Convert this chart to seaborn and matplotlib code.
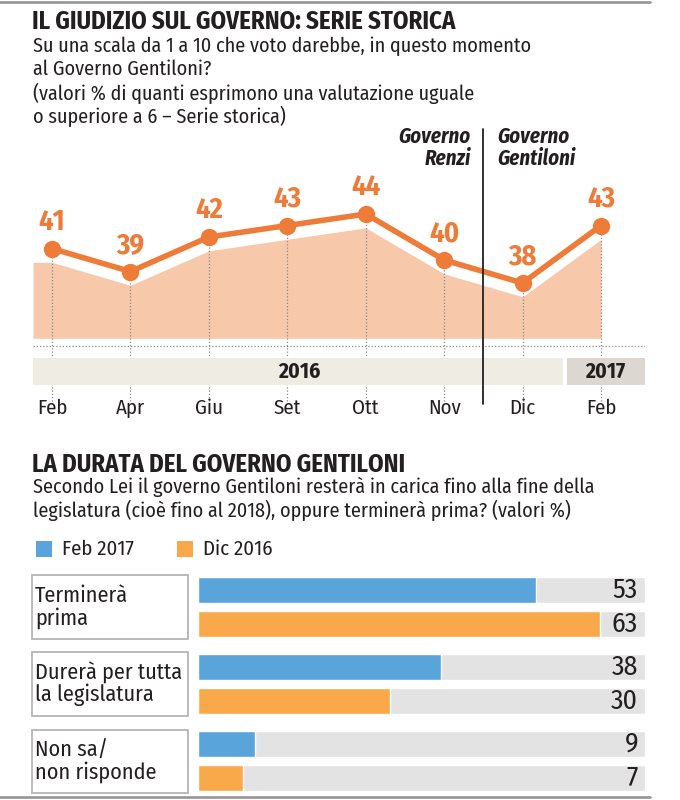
import matplotlib
matplotlib.use("Agg")
import matplotlib.pyplot as plt
import seaborn as sns
import pandas as pd
import numpy as np
from matplotlib.patches import Rectangle
from matplotlib.lines import Line2D

# ---------------- data ----------------
months = ["Feb", "Apr", "Giu", "Set", "Ott", "Nov", "Dic", "Feb"]
approval = [41, 39, 42, 43, 44, 40, 38, 43]
years = ["2016", "2017"]
months_per_year = [7, 1]
gov_labels = ["Governo\nRenzi", "Governo\nGentiloni"]

answers = ["Terminerà\nprima", "Durerà per tutta\nla legislatura", "Non sa/\nnon risponde"]
series_names = ["Feb 2017", "Dic 2016"]
feb2017 = [53, 38, 9]
dic2016 = [63, 30, 7]

# ---------------- style ----------------
sns.set_theme(style="white")
FONT = ["Fira Sans Condensed", "DejaVu Sans"]
plt.rcParams["font.family"] = FONT

ORANGE = "#ee7b37"
AREA = "#f7c8aa"
BAND16 = "#efece3"
BAND17 = "#dcd8d1"
BLUE = "#5aa4dc"
ORANGE2 = "#f9a84a"
TRACK = "#e3e3e3"
TXT = "#231f20"

W, H = 680, 800
fig = plt.figure(figsize=(W / 100, H / 100), dpi=100)


def px_axes(x0, y0, x1, y1):
    return fig.add_axes([x0 / W, 1 - y1 / H, (x1 - x0) / W, (y1 - y0) / H])


def ftext(x, y, s, **kw):
    kw.setdefault("color", TXT)
    return fig.text(x / W, 1 - y / H, s, **kw)


# frame lines
fig.add_artist(Line2D([0, 650 / W], [1 - 2 / H, 1 - 2 / H], color="#9a9a9a", lw=2, transform=fig.transFigure))
fig.add_artist(Line2D([0, 650 / W], [1 - 797 / H, 1 - 797 / H], color="#9a9a9a", lw=2, transform=fig.transFigure))

# ---------------- top titles ----------------
ftext(32, 22, "IL GIUDIZIO SUL GOVERNO: SERIE STORICA", fontsize=17.8, fontweight="bold", va="center")
sub = ["Su una scala da 1 a 10 che voto darebbe, in questo momento",
       "al Governo Gentiloni?",
       "(valori % di quanti esprimono una valutazione uguale",
       "o superiore a 6 \u2013 Serie storica)"]
for i, s in enumerate(sub):
    ftext(33, 46 + i * 23.5, s, fontsize=14.5, va="center")

# ---------------- line chart ----------------
ax = px_axes(33, 125, 645, 420)
idx = np.arange(len(months))
XMIN, XMAX = -0.242, 7.56
YLIM = (26.09, 51.74)

vals = np.array(approval, dtype=float)
shadow = 1.2
ax.fill_between(np.r_[XMIN, idx], np.r_[vals[0], vals] - shadow, 33.2,
                color=AREA, lw=0, zorder=1)
ax.vlines(idx, 27.7, vals, colors="#8a8a8a", linestyles=(0, (1, 1.6)), lw=0.9, zorder=2)
ax.hlines(32.5, XMIN, XMAX, colors="#8a8a8a", linestyles=(0, (1, 1.6)), lw=0.9, zorder=2)

df_line = pd.DataFrame({"idx": idx, "val": vals})
sns.lineplot(data=df_line, x="idx", y="val", ax=ax, color=ORANGE, lw=4.0,
             marker="o", markersize=12.5, markeredgewidth=0, zorder=5)
ax.set_xlim(XMIN, XMAX)
ax.set_ylim(*YLIM)
ax.axis("off")

for x, v in zip(idx, approval):
    ax.annotate(str(v), (x, v), xytext=(0, 9), textcoords="offset points",
                ha="center", va="bottom", color=ORANGE, fontsize=20.5, fontweight="bold", zorder=6)

# year bands
split = months_per_year[0] - 0.46
ax.add_patch(Rectangle((XMIN, 29.13), split - 0.03 - XMIN, 2.35, color=BAND16, lw=0, zorder=3))
ax.add_patch(Rectangle((split + 0.03, 29.13), XMAX - split - 0.03, 2.35, color=BAND17, lw=0, zorder=3))
ax.text((XMIN + split) / 2, 30.3, years[0], ha="center", va="center", fontsize=15.5, fontweight="bold", color=TXT, zorder=4)
ax.text((split + XMAX) / 2, 30.3, years[1], ha="center", va="center", fontsize=15.5, fontweight="bold", color=TXT, zorder=4)

for x, m in zip(idx, months):
    ax.text(x, 27.1, m, ha="center", va="center", fontsize=15, color=TXT)

# government change line
gx = 5.5
ax.plot([gx, gx], [27.5, 51.4], color=TXT, lw=1.3, zorder=6)
ax.text(gx - 0.16, 51.6, gov_labels[0], ha="right", va="top", fontsize=15,
        fontweight="bold", fontstyle="italic", color=TXT, linespacing=1.0)
ax.text(gx + 0.18, 51.6, gov_labels[1], ha="left", va="top", fontsize=15,
        fontweight="bold", fontstyle="italic", color=TXT, linespacing=1.0)

# ---------------- bottom titles ----------------
ftext(32, 465, "LA DURATA DEL GOVERNO GENTILONI", fontsize=17.8, fontweight="bold", va="center")
ftext(33, 487, "Secondo Lei il governo Gentiloni resterà in carica fino alla fine della", fontsize=14.5, va="center")
ftext(33, 510, "legislatura (cioè fino al 2018), oppure terminerà prima? (valori %)", fontsize=14.5, va="center")

# legend
for (x0, name, col) in [(36, series_names[0], BLUE), (177, series_names[1], ORANGE2)]:
    fig.add_artist(Rectangle((x0 / W, 1 - 557 / H), 16 / W, 16 / H, color=col, lw=0, transform=fig.transFigure))
    ftext(x0 + 26, 549, name, fontsize=15, va="center")

# ---------------- bar chart ----------------
bx = px_axes(198, 570, 645, 795)
XLIM_MAX = 70
df_bar = pd.DataFrame({
    "answer": answers * 2,
    "series": [series_names[0]] * 3 + [series_names[1]] * 3,
    "value": feb2017 + dic2016,
})
df_track = df_bar.assign(value=XLIM_MAX)

sns.barplot(data=df_track, y="answer", x="value", hue="series", orient="h",
            palette=[TRACK, TRACK], width=0.88, gap=0.25, ax=bx, legend=False,
            saturation=1, errorbar=None)
sns.barplot(data=df_bar, y="answer", x="value", hue="series", orient="h",
            palette=[BLUE, ORANGE2], width=0.88, gap=0.25, ax=bx, legend=False,
            saturation=1, errorbar=None)
bx.set_xlim(0, XLIM_MAX)
bx.set_ylim(2.44, -0.48)
bx.axis("off")

real = bx.containers[2:]
for cont, vals_s in zip(real, [feb2017, dic2016]):
    for bar, v in zip(cont, vals_s):
        bx.text(68.9, bar.get_y() + bar.get_height() / 2, str(v), ha="right", va="center",
                fontsize=20, color=TXT)

# label boxes
lx = px_axes(30, 570, 190, 795)
lx.set_xlim(0, 1)
lx.set_ylim(2.44, -0.48)
lx.axis("off")
for i, a in enumerate(answers):
    lx.add_patch(Rectangle((0.01, i - 0.41), 0.975, 0.82, facecolor="white",
                           edgecolor="#b5b5b5", lw=1.3))
    lx.text(0.03, i, a, ha="left", va="center", fontsize=16, color=TXT, linespacing=1.0)

fig.savefig("out.png", dpi=100, facecolor="white")
